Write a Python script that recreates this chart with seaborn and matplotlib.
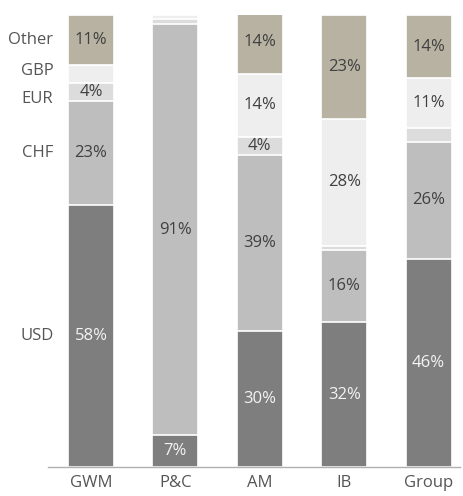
import numpy as np
import pandas as pd
import matplotlib
matplotlib.use("Agg")
import matplotlib.pyplot as plt
import seaborn as sns

# Currency mix by business division (% of total)
units = ["GWM", "P&C", "AM", "IB", "Group"]
currencies = ["USD", "CHF", "EUR", "GBP", "Other"]
usd = [58, 7, 30, 32, 46]
chf = [23, 91, 39, 16, 26]
eur = [4, 1, 4, 1, 3]
gbp = [4, 1, 14, 28, 11]
other = [11, 0, 14, 23, 14]
# Small slices that carry no label
unlabelled = {("GWM", "GBP")}

colors = {"USD": "#7e7e7e", "CHF": "#bebebe", "EUR": "#dcdcdc",
          "GBP": "#eeeeee", "Other": "#b7b2a1"}
text_colors = {"USD": "#f4f4f4", "CHF": "#404040", "EUR": "#404040",
               "GBP": "#404040", "Other": "#404040"}

BAR_WIDTH = 0.545

shares = pd.DataFrame({"USD": usd, "CHF": chf, "EUR": eur, "GBP": gbp,
                       "Other": other}, index=units)
tops = shares.cumsum(axis=1)
bottoms = tops - shares

sns.set_theme(style="white")
plt.rcParams["font.family"] = ["Open Sans", "DejaVu Sans"]

fig = plt.figure(figsize=(4.64, 4.96), dpi=100)
ax = fig.add_axes([0.1034, 0.0585, 0.8876, 0.9113])

# Stacked columns: draw cumulative heights from the top layer downwards
for cur in currencies[::-1]:
    df = pd.DataFrame({"unit": units, "top": tops[cur].values})
    sns.barplot(data=df, x="unit", y="top", order=units, color=colors[cur],
                width=BAR_WIDTH, saturation=1, edgecolor="white",
                linewidth=1.2, ax=ax)

# Percentage labels inside segments
for i, unit in enumerate(units):
    for cur in currencies:
        v = shares.loc[unit, cur]
        if v >= 4 and (unit, cur) not in unlabelled:
            mid = bottoms.loc[unit, cur] + v / 2
            ax.text(i, mid, f"{v}%", ha="center", va="center",
                    fontsize=12, color=text_colors[cur])

# Currency names beside the first column
nudges = {"USD": 0, "CHF": 0, "EUR": -5, "GBP": 2, "Other": 0}
for cur in currencies:
    mid = bottoms.loc[units[0], cur] + shares.loc[units[0], cur] / 2
    ax.annotate(cur, xy=(-BAR_WIDTH / 2, mid), xytext=(-10.5, nudges[cur]),
                textcoords="offset points", ha="right", va="center",
                fontsize=12, color="#555555", annotation_clip=False)

ax.set_xlim(-0.51, 4.37)
ax.set_ylim(0, 100)
ax.set_xlabel("")
ax.set_ylabel("")
ax.set_yticks([])
ax.tick_params(axis="x", length=0, pad=6, labelsize=12, labelcolor="#555555")
for side in ["top", "right", "left"]:
    ax.spines[side].set_visible(False)
ax.spines["bottom"].set_color("#b0b0b0")
ax.spines["bottom"].set_linewidth(1.0)

fig.savefig("out.png", dpi=100)
